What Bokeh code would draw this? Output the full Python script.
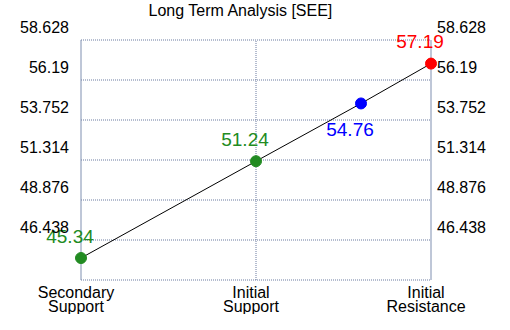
from bokeh.plotting import figure
from bokeh.models import Label, Range1d
from bokeh.embed import file_html
from bokeh.resources import INLINE

# ---- data ----
title_text = "Long Term Analysis [SEE]"
categories = ["Secondary\nSupport", "Initial\nSupport", "Initial\nResistance"]
cat_pos = [0, 1, 2]
point_x = [0, 1, 1.6, 2]
point_values = [45.34, 51.24, 54.76, 57.19]
point_colors = ["#228B22", "#228B22", "#0000FF", "#FF0000"]
label_side = ["above", "above", "below", "above"]
tick_labels = ["58.628", "56.19", "53.752", "51.314", "48.876", "46.438"]
tick_values = [58.628, 56.19, 53.752, 51.314, 48.876, 46.438]
y_min = 44.0
y_max = 58.628

# ---- layout (pixels) ----
W, H = 494, 314
PLOT_L, PLOT_R, PLOT_T, PLOT_B = 80.5, 430.5, 39.5, 279.5
FONT = "Liberation Sans"
GRID = "#6b7ba0"
AXIS = "#7e8fb0"

kx = (PLOT_R - PLOT_L) / (cat_pos[-1] - cat_pos[0])
ky = (PLOT_B - PLOT_T) / (y_max - y_min)
x_range = Range1d(cat_pos[0] - PLOT_L / kx, cat_pos[-1] + (W - PLOT_R) / kx)
y_range = Range1d(y_max - (H - PLOT_T) / ky, y_max + PLOT_T / ky)

p = figure(width=W, height=H, x_range=x_range, y_range=y_range,
           output_backend="svg", toolbar_location=None,
           x_axis_location=None, y_axis_location=None,
           min_border=0)
p.grid.visible = False
p.outline_line_color = None
p.background_fill_color = "white"
p.border_fill_color = "white"

x0, x1 = cat_pos[0], cat_pos[-1]
# horizontal dotted grid lines
hg = [y_min] + tick_values
p.segment(x0=[x0] * len(hg), y0=hg, x1=[x1] * len(hg), y1=hg,
          line_color=GRID, line_width=1, line_dash="1 1")
# vertical dotted grid lines (interior categories)
inner = cat_pos[1:-1]
p.segment(x0=inner, y0=[y_min] * len(inner), x1=inner, y1=[y_max] * len(inner),
          line_color=GRID, line_width=1, line_dash="1 1")
# solid side axes
p.segment(x0=[x0, x1], y0=[y_min, y_min], x1=[x0, x1], y1=[y_max, y_max],
          line_color=AXIS, line_width=1)

# line and points
p.line(point_x, point_values, line_color="black", line_width=1)
p.scatter(point_x, point_values, size=11, fill_color=point_colors,
          line_color=point_colors)

# value labels
for x, v, c, s in zip(point_x, point_values, point_colors, label_side):
    p.add_layout(Label(x=x, y=v, text=f"{v:.2f}", text_color=c,
                       text_font=FONT, text_font_size="19px",
                       text_align="center", text_baseline="middle",
                       x_offset=-11, y_offset=22 if s == "above" else -26))

# y tick labels (left and right)
for v, t in zip(tick_values, tick_labels):
    p.add_layout(Label(x=x0, y=v, text=t, text_font=FONT, text_font_size="16px",
                       text_color="#000000", text_align="right",
                       text_baseline="middle", x_offset=-12, y_offset=13))
    p.add_layout(Label(x=x1, y=v, text=t, text_font=FONT, text_font_size="16px",
                       text_color="#000000", text_align="left",
                       text_baseline="middle", x_offset=6, y_offset=13))

# category labels
for cx, cat in zip(cat_pos, categories):
    for i, line in enumerate(cat.split("\n")):
        p.add_layout(Label(x=cx, y=y_min, text=line, text_font=FONT,
                           text_font_size="16px", text_color="#000000",
                           text_align="center", text_baseline="middle",
                           x_offset=-5, y_offset=-12.5 - 13.5 * i))

# title
p.add_layout(Label(x=(x0 + x1) / 2, y=y_max, text=title_text, text_font=FONT,
                   text_font_size="16px", text_color="#000000",
                   text_align="center", text_baseline="middle",
                   x_offset=-15, y_offset=PLOT_T - 9.5))

open("out.html", "w").write(file_html(p, INLINE))
